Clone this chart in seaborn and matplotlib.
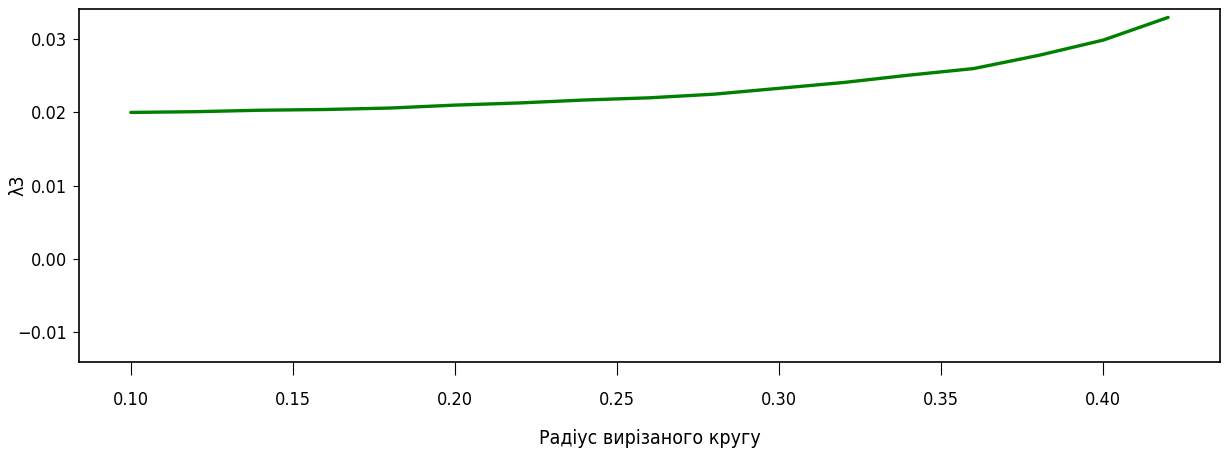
import numpy as np
import pandas as pd
import seaborn as sns
import matplotlib
matplotlib.use("Agg")
import matplotlib.pyplot as plt

# radius of the cut-out circle and the lambda3 values
radius = [0.10, 0.12, 0.14, 0.16, 0.18, 0.20, 0.22, 0.24, 0.26,
          0.28, 0.30, 0.32, 0.34, 0.36, 0.38, 0.40, 0.42]
lambda3 = [0.0200, 0.0201, 0.0203, 0.0204, 0.0206, 0.0210, 0.0213, 0.0217, 0.0220,
           0.0225, 0.0233, 0.0241, 0.0251, 0.0260, 0.0278, 0.0299, 0.0330]

df = pd.DataFrame({"r": radius, "l3": lambda3})

sns.set_style("ticks")
plt.rcParams["font.family"] = ["DejaVu Sans"]
plt.rcParams["font.stretch"] = "condensed"
plt.rcParams["text.color"] = "black"
plt.rcParams["axes.labelcolor"] = "black"
plt.rcParams["xtick.color"] = "black"
plt.rcParams["ytick.color"] = "black"

fig = plt.figure(figsize=(12.24, 4.53), dpi=100)
ax = fig.add_axes([0.0645, 0.2009, 0.9322, 0.7792])

sns.lineplot(data=df, x="r", y="l3", ax=ax, color="green", linewidth=2.4)

ax.set_ylim(-0.01415, 0.03415)
ax.set_xticks([0.10, 0.15, 0.20, 0.25, 0.30, 0.35, 0.40])
ax.set_yticks([-0.01, 0.00, 0.01, 0.02, 0.03])
ax.tick_params(axis="x", labelsize=13, length=9, pad=12)
ax.tick_params(axis="y", labelsize=13, length=4.5, pad=4)
for s in ax.spines.values():
    s.set_color("black")
    s.set_linewidth(1.2)

ax.set_xlabel("Радіус вирізаного кругу", fontsize=14)
ax.xaxis.set_label_coords(0.5, -0.19)
ax.set_ylabel("λ3", fontsize=14)
ax.yaxis.set_label_coords(-0.045, 0.5)

fig.savefig("out.png", dpi=100)
